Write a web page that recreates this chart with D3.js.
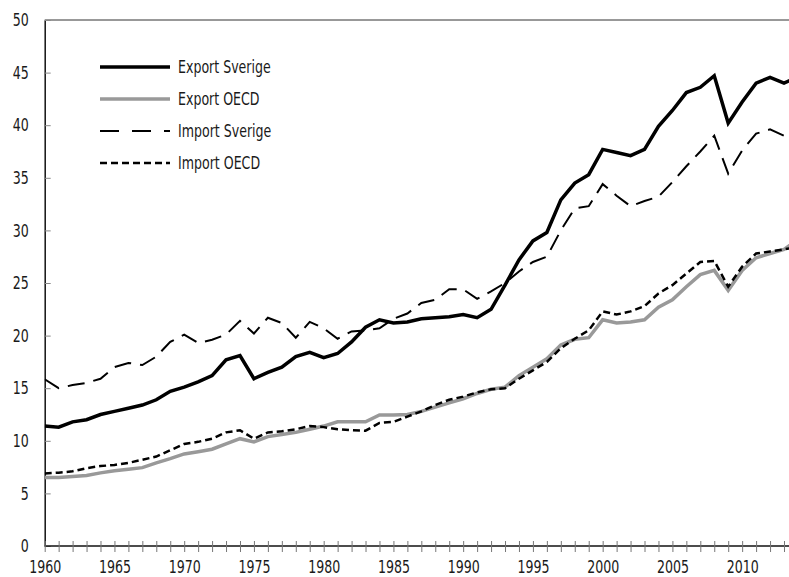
<!DOCTYPE html>
<html>
<head>
<meta charset="utf-8">
<script src="https://cdn.jsdelivr.net/npm/d3@7"></script>
<style>
  body { margin: 0; background: white; }
  text { font-family: "Liberation Sans Narrow", "DejaVu Sans Condensed", "Arial Narrow", sans-serif; fill: #1a1a1a; }
</style>
</head>
<body>
<div id="container"></div>
<script>
// share of GDP, 1960 - 2014
let years = d3.range(1960, 2015);

let exportSverige = [11.4, 11.3, 11.8, 12.0, 12.5, 12.8, 13.1, 13.4, 13.9, 14.7,
  15.1, 15.6, 16.2, 17.7, 18.1, 15.9, 16.5, 17.0, 18.0, 18.4,
  17.9, 18.3, 19.4, 20.8, 21.5, 21.2, 21.3, 21.6, 21.7, 21.8,
  22.0, 21.7, 22.5, 24.8, 27.2, 29.0, 29.8, 32.9, 34.5, 35.3,
  37.7, 37.4, 37.1, 37.7, 39.9, 41.4, 43.1, 43.6, 44.7, 40.2,
  42.2, 44.0, 44.55, 44.0, 44.6];

let exportOECD = [6.5, 6.5, 6.6, 6.7, 6.95, 7.15, 7.3, 7.45, 7.9, 8.3,
  8.75, 8.96, 9.2, 9.7, 10.2, 9.9, 10.4, 10.6, 10.8, 11.1,
  11.4, 11.8, 11.8, 11.8, 12.45, 12.45, 12.5, 12.8, 13.2, 13.6,
  14.0, 14.5, 14.9, 15.1, 16.2, 17.0, 17.8, 19.1, 19.65, 19.8,
  21.5, 21.2, 21.3, 21.5, 22.7, 23.4, 24.65, 25.8, 26.2, 24.3,
  26.2, 27.4, 27.8, 28.2, 29.1];

let importSverige = [15.85, 15.0, 15.3, 15.5, 15.9, 17.0, 17.4, 17.2, 18.0, 19.4,
  20.1, 19.3, 19.6, 20.1, 21.4, 20.2, 21.7, 21.2, 19.8, 21.3,
  20.7, 19.7, 20.4, 20.5, 20.7, 21.6, 22.1, 23.1, 23.4, 24.4,
  24.4, 23.5, 24.2, 25.0, 26.1, 27.0, 27.5, 30.0, 32.1, 32.3,
  34.4, 33.3, 32.3, 32.8, 33.2, 34.6, 36.1, 37.5, 39.0, 35.4,
  37.6, 39.2, 39.6, 39.0, 40.4];

let importOECD = [6.9, 6.97, 7.1, 7.4, 7.6, 7.7, 7.9, 8.2, 8.5, 9.1,
  9.7, 9.9, 10.2, 10.8, 11.0, 10.2, 10.8, 10.9, 11.1, 11.4,
  11.3, 11.1, 11.0, 10.96, 11.7, 11.8, 12.3, 12.8, 13.4, 13.9,
  14.2, 14.6, 14.9, 15.0, 15.9, 16.7, 17.5, 18.8, 19.7, 20.5,
  22.3, 22.0, 22.3, 22.8, 24.0, 24.8, 25.9, 27.0, 27.1, 24.65,
  26.55, 27.8, 28.0, 28.2, 28.4];

let yTicks = d3.range(0, 51, 5);
let xLabelYears = [1960, 1965, 1970, 1975, 1980, 1985, 1990, 1995, 2000, 2005, 2010];

let w = 789;
let h = 577;
let padLeft = 44.7;
let padRight = 789;
let padTop = 20;
let padBottom = 546;
let squeeze = 0.8;   // the original font is a narrow one, squeeze the text sideways

let viz = d3.select("#container")
  .append("svg")
  .attr("width", w)
  .attr("height", h)
  .style("display", "block")
  .style("background-color", "white");

let xScale = d3.scaleLinear().domain([1960, 2013]).range([padLeft, 784]);
let yScale = d3.scaleLinear().domain([0, 50]).range([padBottom, padTop]);

viz.append("clipPath").attr("id", "plotclip")
  .append("rect")
  .attr("x", padLeft).attr("y", padTop - 5)
  .attr("width", padRight - padLeft).attr("height", padBottom - padTop + 5);

// top border
viz.append("line")
  .attr("x1", padLeft).attr("x2", padRight)
  .attr("y1", padTop).attr("y2", padTop)
  .attr("stroke", "#333").attr("stroke-width", 1);

// y axis
let yAxisGroup = viz.append("g")
  .attr("transform", "translate(" + padLeft + ",0)")
  .call(d3.axisLeft(yScale).tickValues(yTicks).tickSize(-6).tickPadding(16).tickSizeOuter(0));
yAxisGroup.select(".domain").attr("stroke", "#111").attr("stroke-width", 1.5);
yAxisGroup.selectAll(".tick line").attr("stroke", "#888");
yAxisGroup.selectAll(".tick text")
  .attr("font-size", "17.5px")
  .attr("fill", null)
  .attr("x", 0)
  .attr("transform", "translate(-16,0) scale(" + squeeze + ",1)");
yAxisGroup.attr("font-family", null);

// x axis, tick every year crossing the axis line
let xAxisGroup = viz.append("g")
  .attr("transform", "translate(0," + padBottom + ")")
  .call(d3.axisBottom(xScale).tickValues(years.filter(function (d) { return d <= 2013; }))
    .tickSize(6).tickPadding(9).tickSizeOuter(0)
    .tickFormat(function (d) { return xLabelYears.includes(d) ? d : ""; }));
xAxisGroup.select(".domain").attr("d", "M" + padLeft + ",0H" + padRight).attr("stroke", "#111").attr("stroke-width", 1.5);
xAxisGroup.selectAll(".tick line").attr("y1", -5).attr("stroke", "#777");
xAxisGroup.selectAll(".tick text")
  .attr("font-size", "17.5px")
  .attr("fill", null)
  .attr("transform", "scale(" + squeeze + ",1)");
xAxisGroup.attr("font-family", null);

// series
let series = [
  { name: "Export OECD", values: exportOECD, color: "#999999", width: 3.5, dash: null },
  { name: "Export Sverige", values: exportSverige, color: "#000000", width: 3.5, dash: null },
  { name: "Import Sverige", values: importSverige, color: "#000000", width: 2, dash: "17,9" },
  { name: "Import OECD", values: importOECD, color: "#000000", width: 2.5, dash: "7,4" }
];

let line = d3.line()
  .x(function (d, i) { return xScale(years[i]); })
  .y(function (d) { return yScale(d); });

let lineGroup = viz.append("g").attr("clip-path", "url(#plotclip)");
lineGroup.selectAll("path")
  .data(series)
  .enter()
  .append("path")
  .attr("d", function (d) { return line(d.values); })
  .attr("fill", "none")
  .attr("stroke", function (d) { return d.color; })
  .attr("stroke-width", function (d) { return d.width; })
  .attr("stroke-dasharray", function (d) { return d.dash; })
  .attr("stroke-linejoin", "miter");

// legend
let legendOrder = ["Export Sverige", "Export OECD", "Import Sverige", "Import OECD"];
let legend = viz.append("g");
legendOrder.forEach(function (name, i) {
  let s = series.find(function (d) { return d.name == name; });
  let y = 67 + i * 32;
  legend.append("line")
    .attr("x1", 100).attr("x2", 170)
    .attr("y1", y).attr("y2", y)
    .attr("stroke", s.color)
    .attr("stroke-width", s.width)
    .attr("stroke-dasharray", name == "Import Sverige" ? "19,13" : s.dash);
  legend.append("text")
    .attr("transform", "translate(178," + y + ") scale(" + squeeze + ",1)")
    .attr("dy", "0.35em")
    .attr("font-size", "17.5px")
    .text(name);
});
</script>
</body>
</html>
